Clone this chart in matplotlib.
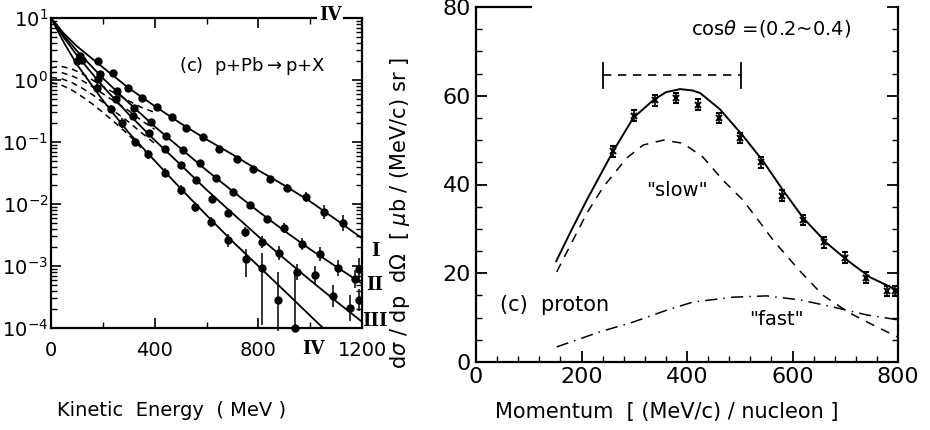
import numpy as np
import matplotlib.pyplot as plt

# ---- left panel: p + Pb -> p + X, energy spectra (log scale) ----
fit_ke = [0, 50, 100, 200, 300, 400, 500, 600, 700, 800, 900, 1000, 1100, 1200]
fit_I = [10, 5.6, 3.5, 1.6, 0.74, 0.38, 0.20, 0.11, 0.063, 0.035, 0.020, 0.011, 0.0056, 0.0028]
fit_II = [10, 5.2, 2.95, 1.07, 0.43, 0.178, 0.079, 0.035, 0.0162, 0.0076, 0.0037, 0.00186, 0.00098, 0.00052]
fit_III = [10, 4.8, 2.5, 0.79, 0.28, 0.107, 0.043, 0.017, 0.0071, 0.0030, 0.00132, 0.00059, 0.00027, 0.000126]
fit_IV = [10, 4.0, 1.78, 0.47, 0.141, 0.050, 0.0178, 0.0066, 0.0025, 0.0010, 0.0004, 0.000158, 0.000063, 0.000025]

slow_ke = [0, 40, 80, 120, 160, 200, 250, 300, 350, 400]
slow_I = [1.58, 1.66, 1.51, 1.26, 1.0, 0.79, 0.60, 0.46, 0.36, 0.30]
slow_II = [1.32, 1.32, 1.17, 0.98, 0.78, 0.60, 0.44, 0.32, 0.22, 0.16]
slow_III = [1.10, 1.05, 0.91, 0.74, 0.58, 0.44, 0.30, 0.21, 0.14, 0.095]
slow_IV = [0.91, 0.83, 0.69, 0.54, 0.41, 0.30, 0.20, 0.13, 0.079, 0.05]

ke_I = [180, 239, 297, 351, 409, 467, 521, 586, 648, 718, 779, 845, 910, 984, 1053, 1127]
y_I = [2.0, 1.30, 0.74, 0.51, 0.37, 0.25, 0.168, 0.12, 0.077, 0.053, 0.037, 0.025, 0.018, 0.013, 0.0074, 0.0049]
err_I = [0.1] * 12 + [0.15, 0.2, 0.3, 0.35]

ke_II = [120, 190, 255, 320, 385, 445, 509, 575, 637, 702, 768, 833, 899, 968, 1038, 1107, 1173, 1190]
y_II = [2.1, 1.26, 0.66, 0.355, 0.21, 0.126, 0.074, 0.046, 0.026, 0.0156, 0.0096, 0.0057, 0.0041, 0.0023,
        0.00156, 0.00093, 0.00062, 0.0009]
err_II = [0.1] * 12 + [0.2, 0.25, 0.3, 0.35, 0.4, 0.5]

ke_III = [110, 180, 250, 315, 380, 440, 500, 560, 621, 683, 748, 814, 880, 949, 1019, 1088, 1154, 1190]
y_III = [2.4, 1.05, 0.5, 0.26, 0.138, 0.076, 0.042, 0.024, 0.012, 0.0072, 0.0035, 0.0024, 0.0016, 0.0008,
         0.00072, 0.00033, 0.00021, 0.00028]
err_III = [0.1] * 10 + [0.2, 0.25, 0.3, 0.35, 0.4, 0.5, 0.6, 0.5]

ke_IV = [100, 177, 230, 274, 324, 375, 440, 500, 556, 617, 683, 752, 814, 876, 941]
y_IV = [2.0, 0.74, 0.34, 0.2, 0.1, 0.063, 0.032, 0.0166, 0.0089, 0.0051, 0.0026, 0.0013, 0.00093, 0.00028, 0.0001]
lo_IV = [1.7, 0.63, 0.29, 0.17, 0.085, 0.053, 0.027, 0.014, 0.0075, 0.0042, 0.0020, 0.00066, 0.000112, 0.00009, 0.0001]
hi_IV = [2.4, 0.88, 0.40, 0.24, 0.118, 0.075, 0.038, 0.020, 0.0106, 0.0062, 0.0033, 0.0019, 0.00162, 0.00079, 0.00079]

# ---- right panel: proton momentum spectrum ----
p_total = [152, 180, 210, 235, 260, 298, 336, 360, 387, 410, 425, 462, 506, 544, 582, 620, 665, 703, 747, 798]
v_total = [22.7, 29.5, 36.5, 42.0, 47.5, 55.0, 59.0, 60.8, 61.5, 61.2, 60.6, 57.0, 51.0, 45.3, 38.7, 32.5,
           26.8, 23.0, 19.1, 16.2]
p_slow = [153, 184, 210, 241, 286, 317, 355, 392, 430, 468, 506, 538, 563, 614, 658, 709, 760, 800]
v_slow = [20.3, 27.5, 33.5, 39.4, 46.0, 48.9, 50.0, 49.3, 46.2, 41.0, 36.5, 31.5, 27.5, 20.5, 15.0, 11.0, 7.9, 5.6]
p_fast = [153, 235, 298, 362, 411, 487, 551, 614, 677, 741, 800]
v_fast = [3.4, 6.8, 9.0, 11.7, 13.5, 14.6, 14.9, 14.0, 12.4, 10.6, 9.5]
p_data = [260, 300, 340, 380, 420, 460, 500, 540, 580, 620, 660, 700, 740, 780, 795]
v_data = [47.5, 55.5, 59.0, 59.5, 58.0, 55.0, 50.5, 45.0, 37.5, 32.0, 27.0, 23.5, 19.0, 16.0, 16.0]
v_err = [1.2] * 15
cos_range = [241, 502]
cos_level = 64.6

fig = plt.figure(figsize=(9.3, 4.3), dpi=100)
ax1 = fig.add_axes([51 / 930, 1 - 328 / 430, 311 / 930, 310 / 430])
ax2 = fig.add_axes([476 / 930, 1 - 362 / 430, 422 / 930, 355 / 430])

# left panel curves
for fit in (fit_I, fit_II, fit_III, fit_IV):
    ax1.plot(fit_ke, fit, 'k-', lw=1.3)
for slow in (slow_I, slow_II, slow_III, slow_IV):
    ax1.plot(slow_ke, slow, 'k--', lw=1.1, dashes=(4, 3))

for ke, y, err in ((ke_I, y_I, err_I), (ke_II, y_II, err_II), (ke_III, y_III, err_III)):
    y = np.array(y)
    f = np.array(err)
    yerr = [y - y / (1 + f), y * f]
    ax1.errorbar(ke, y, yerr=yerr, fmt='o', color='k', ms=5, elinewidth=1.1, capsize=0)
y4 = np.array(y_IV)
ax1.errorbar(ke_IV, y4, yerr=[y4 - np.array(lo_IV), np.array(hi_IV) - y4],
             fmt='o', color='k', ms=5, elinewidth=1.1, capsize=0, clip_on=False)

ax1.set_yscale('log')
ax1.set_xlim(0, 1200)
ax1.set_ylim(1e-4, 10)
ax1.set_xticks([0, 400, 800, 1200])
ax1.set_xticks([200, 600, 1000], minor=True)
ax1.tick_params(which='both', direction='in', top=True, right=True, labelsize=14)
ax1.tick_params(which='major', length=7, width=1.2)
ax1.tick_params(which='minor', length=4, width=1.0)
ax1.tick_params(axis='y', pad=2)
ax1.tick_params(axis='x', pad=9)
for s in ax1.spines.values():
    s.set_linewidth(1.6)
ax1.text(0.41, 0.83, '(c)  p+Pb$\\rightarrow$p+X', transform=ax1.transAxes, fontsize=13)

# roman numeral curve labels
rn = dict(fontsize=13, fontweight='bold', family='DejaVu Serif', ha='center', va='center')
fig.text(330 / 930, 1 - 15 / 430, 'IV', bbox=dict(fc='white', ec='none', pad=1), **rn)
fig.text(375 / 930, 1 - 251 / 430, 'I', **rn)
fig.text(375 / 930, 1 - 285 / 430, 'II', **rn)
fig.text(375 / 930, 1 - 321 / 430, 'III', **rn)
fig.text(313 / 930, 1 - 349 / 430, 'IV', **rn)

fig.text(172 / 930, 1 - 411 / 430, 'Kinetic  Energy  ( MeV )', fontsize=14, ha='center', va='center')
fig.text(400 / 930, 1 - 213 / 430, 'd$\\sigma$ / dp  d$\\Omega$  [ $\\mu$b / (MeV/c) sr ]', fontsize=15,
         rotation=90, ha='center', va='center')

# right panel curves
ax2.plot(p_total, v_total, 'k-', lw=1.4)
ax2.plot(p_slow, v_slow, 'k--', lw=1.1, dashes=(6, 5))
ax2.plot(p_fast, v_fast, 'k-.', lw=1.1, dashes=(8, 4, 1, 4))
ax2.errorbar(p_data, v_data, yerr=v_err, fmt='x', color='k', ms=5, mew=1.5, elinewidth=1.2, capsize=2.5)

# angular bin marker
ax2.plot(cos_range, [cos_level, cos_level], 'k--', lw=1.2, dashes=(5, 4))
for p in cos_range:
    ax2.plot([p, p], [cos_level - 2.8, cos_level + 2.8], 'k-', lw=1.3)
ax2.text(559, 75.2, 'cos$\\theta$ =(0.2~0.4)', fontsize=14, ha='center', va='center')
ax2.text(381, 38.7, '"slow"', fontsize=14, ha='center', va='center')
ax2.text(570, 9.5, '"fast"', fontsize=14, ha='center', va='center')
ax2.text(45, 12.8, '(c)  proton', fontsize=15, ha='left', va='center')

ax2.set_xlim(0, 800)
ax2.set_ylim(0, 80)
ax2.set_xticks([0, 200, 400, 600, 800])
ax2.set_xticks(np.arange(0, 801, 40), minor=True)
ax2.set_yticks([0, 20, 40, 60, 80])
ax2.set_yticks(np.arange(0, 81, 5), minor=True)
ax2.tick_params(which='both', direction='in', top=False, right=True, labelsize=16)
ax2.tick_params(which='major', length=8, width=1.3)
ax2.tick_params(which='minor', length=4, width=1.0)
for s in ax2.spines.values():
    s.set_linewidth(1.6)
ax2.spines['top'].set_bounds(0, 105)

fig.text(667 / 930, 1 - 412 / 430, 'Momentum  [ (MeV/c) / nucleon ]', fontsize=15, ha='center', va='center')

plt.savefig('out.png', dpi=100)
